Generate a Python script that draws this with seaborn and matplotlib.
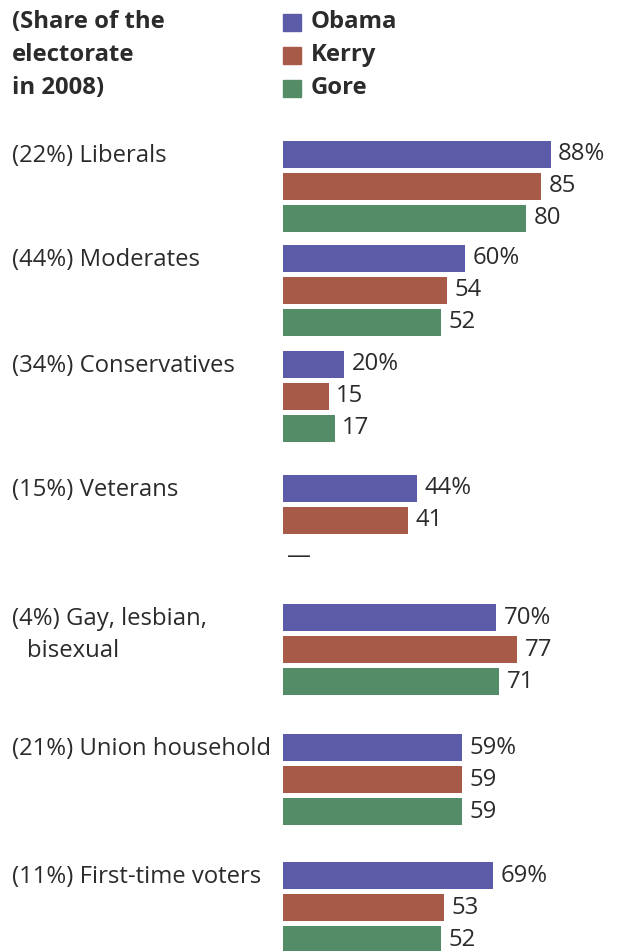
import matplotlib
matplotlib.use("Agg")
import matplotlib.pyplot as plt
import seaborn as sns
import pandas as pd
import numpy as np

# Exit-poll support among voter groups, by Democratic candidate
groups = ["(22%) Liberals", "(44%) Moderates", "(34%) Conservatives", "(15%) Veterans",
          "(4%) Gay, lesbian,", "(21%) Union household", "(11%) First-time voters"]
group_second_line = ["", "", "", "", "bisexual", "", ""]
candidates = ["Obama", "Kerry", "Gore"]
obama = [88, 60, 20, 44, 70, 59, 69]
kerry = [85, 54, 15, 41, 77, 59, 53]
gore = [80, 52, 17, np.nan, 71, 59, 52]

colors = {"Obama": "#5b5ba8", "Kerry": "#a85a48", "Gore": "#558c68"}
text_color = "#2b2b2b"

sns.set_theme(style="white")
plt.rcParams["font.family"] = ["Open Sans", "DejaVu Sans"]

W, H = 623, 951
fig = plt.figure(figsize=(W / 100, H / 100), dpi=100)

FS = 17.2

# pixel layout of each group's block (top of first bar)
group_tops = [141, 245, 351, 475, 604, 734, 862]
pitch = 32
bar_h = 27
x0, axw = 283, 304
text_drop = 1.5  # nudges group labels down so glyphs sit centred on the bars

rows = []
for g, o, k, gr in zip(groups, obama, kerry, gore):
    for c, v in zip(candidates, (o, k, gr)):
        rows.append({"group": g, "candidate": c, "share": v})
df = pd.DataFrame(rows)

for gi, g in enumerate(groups):
    top = group_tops[gi] - (pitch - bar_h) / 2
    h = 3 * pitch
    ax = fig.add_axes([x0 / W, 1 - (top + h) / H, axw / W, h / H])
    sub = df[df["group"] == g]
    sns.barplot(data=sub, x="share", y="candidate", hue="candidate",
                order=candidates, hue_order=candidates, palette=colors,
                width=bar_h / pitch, legend=False, ax=ax, saturation=1,
                linewidth=0, edgecolor="none")
    ax.set_xlim(0, 100)
    ax.set_ylim(2.5, -0.5)
    ax.axis("off")
    for ci, c in enumerate(candidates):
        v = sub.loc[sub["candidate"] == c, "share"].iloc[0]
        if pd.isna(v):
            ax.annotate("—", xy=(0, ci), xytext=(3, -3), textcoords="offset points",
                        ha="left", va="center", fontsize=FS, color=text_color)
            continue
        label = f"{int(v)}%" if ci == 0 else f"{int(v)}"
        ax.annotate(label, xy=(v, ci), xytext=(5.5, 0),
                    textcoords="offset points",
                    ha="left", va="center", fontsize=FS, color=text_color)
    # group label on the left
    yc = group_tops[gi] + bar_h / 2 + text_drop
    fig.text(12 / W, 1 - yc / H, g, ha="left", va="center", fontsize=FS, color=text_color)
    if group_second_line[gi]:
        fig.text(27 / W, 1 - (yc + pitch) / H, group_second_line[gi], ha="left",
                 va="center", fontsize=FS, color=text_color)

# header on the left
header = ["(Share of the", "electorate", "in 2008)"]
for i, line in enumerate(header):
    yc = 22 + i * 33
    fig.text(12 / W, 1 - yc / H, line, ha="left", va="center", fontsize=FS,
             fontweight="bold", color=text_color)

# legend
for i, c in enumerate(candidates):
    yc = 22 + i * 33
    fig.patches.append(plt.Rectangle((283 / W, 1 - (yc + 9) / H), 18 / W, 17 / H,
                                     transform=fig.transFigure, color=colors[c]))
    fig.text(311 / W, 1 - yc / H, c, ha="left", va="center", fontsize=FS,
             fontweight="bold", color=text_color)

fig.savefig("out.png", dpi=100, facecolor="white")
